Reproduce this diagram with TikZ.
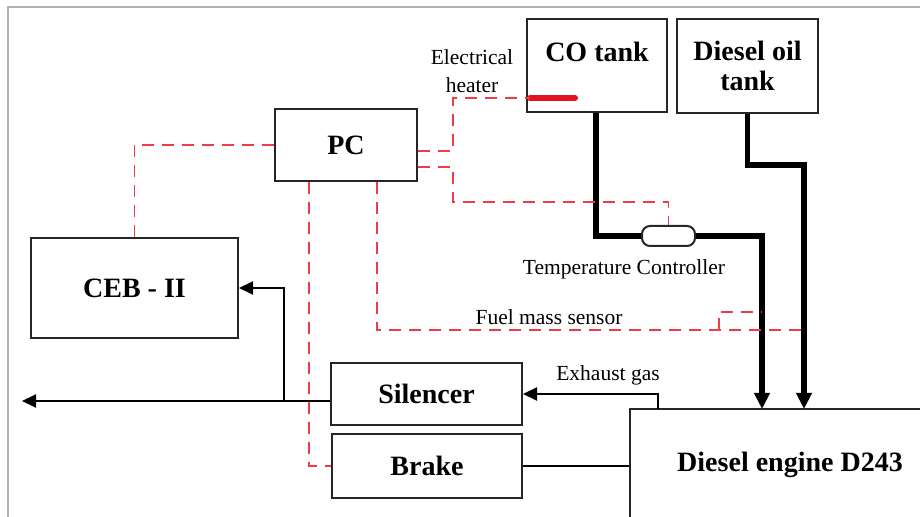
\documentclass[tikz,border=0pt]{standalone}
\usepackage{fontspec}
\setmainfont{Liberation Serif}
\usetikzlibrary{arrows.meta,calc}
\definecolor{sigred}{RGB}{240,60,72}
\definecolor{htred}{RGB}{228,18,30}
\begin{document}
\begin{tikzpicture}[x=0.5pt,y=-0.5pt,
    every node/.style={inner sep=1pt},
    unit/.style={draw=black!85,line width=1pt,font=\fontsize{14}{15}\selectfont\bfseries,align=center},
    lbl/.style={font=\fontsize{10.75}{14}\selectfont,align=center},
    flow/.style={line width=1pt,-{Triangle[length=7pt,width=6.5pt]}},
    plain/.style={line width=1pt},
    fuel/.style={line width=2.6pt},
    sig/.style={sigred,line width=0.9pt,dash pattern=on 6pt off 4pt}]
    \useasboundingbox (0,0) rectangle (920,517);
    \clip (0,0) rectangle (920,517);
    \draw[black!30,line width=0.7pt] (8,517) -- (8,7) -- (920,7);
    % units
    \node[unit,minimum width=70pt,minimum height=46.5pt] (co) at (597,65.5) {};
    \node[unit,draw=none] (coT) at (597,52) {CO tank};
    \node[unit,minimum width=70.5pt,minimum height=47pt] (dot) at (747.5,66) {Diesel oil\\tank};
    \node[unit,minimum width=71pt,minimum height=36pt] (pc) at (346,145) {PC};
    \node[unit,minimum width=103.5pt,minimum height=50pt] (ceb) at (134.5,288) {CEB - II};
    \node[unit,minimum width=95.5pt,minimum height=31pt] (sil) at (426.5,394) {Silencer};
    \node[unit,minimum width=95pt,minimum height=32pt] (brk) at (427,466) {Brake};
    \node[unit,minimum width=160pt,minimum height=56pt] (eng) at (790,465) {Diesel engine D243};
    \node[draw=black!85,line width=1pt,rounded corners=4pt,minimum width=26.5pt,minimum height=10pt] (tc) at (668.5,236) {};
    % labels
    \node[lbl] (lHeat) at (472,71) {Electrical\\heater};
    \node[lbl] (lTc) at (624,269) {Temperature Controller};
    \node[lbl] (lFms) at (549,317) {Fuel mass sensor};
    \node[lbl] (lExh) at (608,375) {Exhaust gas};
    % free ends
    \coordinate (htr) at (530,98);
    \coordinate (inCO) at (762,409);
    \coordinate (inDO) at (804,409);
    \coordinate (exh) at (658,409);
    \coordinate (out) at (22,401);
    \coordinate (jn) at (284,401);
    \coordinate (fms) at (804,330);
    \coordinate (fmsB) at (719,330);
    % fuel lines
    \draw[fuel] (co.south -| 596,0) |- (tc.west);
    \draw[fuel,-{Triangle[length=8pt,width=7.5pt]}] (tc.east) -| (inCO);
    \draw[fuel,-{Triangle[length=8pt,width=7.5pt]}] (dot.south) -- ++(0,51) -| (inDO);
    % gas and shaft
    \draw[flow] (exh) |- (sil.east);
    \draw[plain] (brk.east) -- (brk.east -| eng.west);
    \draw[flow] (sil.west |- out) -- (out);
    \draw[flow] (jn) |- (ceb.east);
    % heater
    \draw[htred,line width=3pt,line cap=round] (htr) -- ++(45,0);
    % signals
    \draw[sig] (pc.west) -| (ceb.north);
    \draw[sig] ($(pc.south west)+(35,0)$) |- (brk.west);
    \draw[sig] ($(pc.south west)+(103,0)$) |- (fms);
    \draw[sig] (fmsB) |- (inCO |- 0,312);
    \draw[sig] ($(pc.north east)+(0,43)$) -- ++(35,0) |- (htr);
    \draw[sig] ($(pc.north east)+(0,59)$) -- ++(35,0) |- ($(tc.north)+(0,-23)$) -- (tc.north);
\end{tikzpicture}
\end{document}
